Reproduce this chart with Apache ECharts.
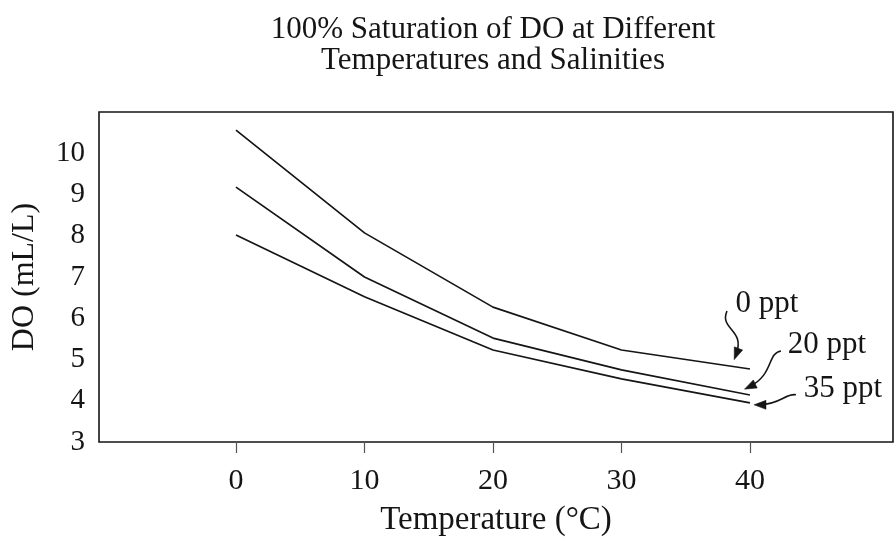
<!DOCTYPE html>
<html>
<head>
<meta charset="utf-8">
<script src="https://cdn.jsdelivr.net/npm/echarts@6/dist/echarts.min.js"></script>
<style>
  html, body { margin: 0; padding: 0; background: #fff; }
  #chart { width: 896px; height: 538px; }
</style>
</head>
<body>
<div id="chart"></div>
<script>
// ---- data ----
const temps = [0, 10, 20, 30, 40];
const do0ppt = [10.56, 8.07, 6.27, 5.23, 4.77];
const do20ppt = [9.18, 7.0, 5.52, 4.75, 4.14];
const do35ppt = [8.02, 6.52, 5.23, 4.53, 3.95];
const seriesNames = ['0 ppt', '20 ppt', '35 ppt'];
const xTicks = [0, 10, 20, 30, 40];
const yTicks = [3, 4, 5, 6, 7, 8, 9, 10];
const titleLines = ['100% Saturation of DO at Different', 'Temperatures and Salinities'];

const FONT = '"Liberation Serif", "Times New Roman", serif';
const INK = '#151515';

function pairs(ys) { return temps.map((t, i) => [t, ys[i]]); }

const chart = echarts.init(document.getElementById('chart'), null, { renderer: 'canvas' });

const lineSeries = [do0ppt, do20ppt, do35ppt].map((ys, i) => ({
  name: seriesNames[i],
  type: 'line',
  data: pairs(ys),
  showSymbol: false,
  symbol: 'none',
  lineStyle: { color: INK, width: 1.7 },
  animation: false
}));

chart.setOption({
  backgroundColor: '#fff',
  animation: false,
  grid: {
    left: 99, right: 3, top: 112, bottom: 96,
    outerBoundsMode: 'none',
    containLabel: false,
    show: true, borderColor: INK, borderWidth: 1.6, backgroundColor: 'transparent'
  },
  xAxis: {
    type: 'value',
    min: -10.66, max: 51.13,
    name: 'Temperature (°C)',
    nameLocation: 'middle',
    nameGap: 62,
    nameTextStyle: { fontFamily: FONT, fontSize: 33, color: INK },
    axisLine: { show: false },
    axisTick: { show: true, customValues: xTicks, length: 11, inside: false, lineStyle: { color: '#555', width: 1.2 } },
    axisLabel: { customValues: xTicks, fontFamily: FONT, fontSize: 30, color: INK, margin: 24 },
    splitLine: { show: false }
  },
  yAxis: {
    type: 'value',
    min: 3, max: 11,
    name: 'DO (mL/L)',
    nameLocation: 'middle',
    nameGap: 58,
    nameTextStyle: { fontFamily: FONT, fontSize: 32, color: INK },
    axisLine: { show: false },
    axisTick: { show: false },
    axisLabel: { customValues: yTicks, fontFamily: FONT, fontSize: 29, color: INK, margin: 14 },
    splitLine: { show: false }
  },
  series: lineSeries
});

// ---- annotations anchored to each series' last point ----
const lastIdx = temps.length - 1;
const ends = [do0ppt, do20ppt, do35ppt].map(ys => chart.convertToPixel({ gridIndex: 0 }, [temps[lastIdx], ys[lastIdx]]));

// offsets relative to the series end point (pixels): text centre, bezier [start, cp1, cp2, end]
const annot = [
  { text: seriesNames[0], tx: 17, ty: -65, curve: [-23, -58, -31, -39, -4, -40, -14, -14] },
  { text: seriesNames[1], tx: 77, ty: -50, curve: [31, -44, 17, -42, 24, -20, -1, -8] },
  { text: seriesNames[2], tx: 93, ty: -14, curve: [46, -8, 36, -10, 30, 2, 9, 2] }
];

const graphics = [];
titleLines.forEach((t, i) => {
  graphics.push({
    type: 'text', x: 493, y: 14 + i * 31, silent: true,
    style: { text: t, font: '31px ' + FONT, fill: INK, textAlign: 'center', textVerticalAlign: 'top' }
  });
});

annot.forEach((a, i) => {
  const [ex, ey] = ends[i];
  const c = a.curve;
  const x1 = ex + c[0], y1 = ey + c[1];
  const cx1 = ex + c[2], cy1 = ey + c[3];
  const cx2 = ex + c[4], cy2 = ey + c[5];
  const x2 = ex + c[6], y2 = ey + c[7];
  graphics.push({
    type: 'bezierCurve', silent: true,
    shape: { x1: x1, y1: y1, cpx1: cx1, cpy1: cy1, cpx2: cx2, cpy2: cy2, x2: x2, y2: y2 },
    style: { stroke: INK, lineWidth: 1.6, fill: null }
  });
  // arrowhead
  let dx = x2 - cx2, dy = y2 - cy2;
  const L = Math.hypot(dx, dy); dx /= L; dy /= L;
  const len = 12, half = 4.5;
  const tipx = x2 + dx * 5, tipy = y2 + dy * 5;
  const bx = tipx - dx * len, by = tipy - dy * len;
  graphics.push({
    type: 'polygon', silent: true,
    shape: { points: [[tipx, tipy], [bx - dy * half, by + dx * half], [bx + dy * half, by - dx * half]] },
    style: { fill: INK, stroke: INK, lineWidth: 0.5 }
  });
  graphics.push({
    type: 'text', silent: true, x: ex + a.tx, y: ey + a.ty,
    style: { text: a.text, font: '31px ' + FONT, fill: INK, textAlign: 'center', textVerticalAlign: 'middle' }
  });
});

chart.setOption({ graphic: graphics });
</script>
</body>
</html>
